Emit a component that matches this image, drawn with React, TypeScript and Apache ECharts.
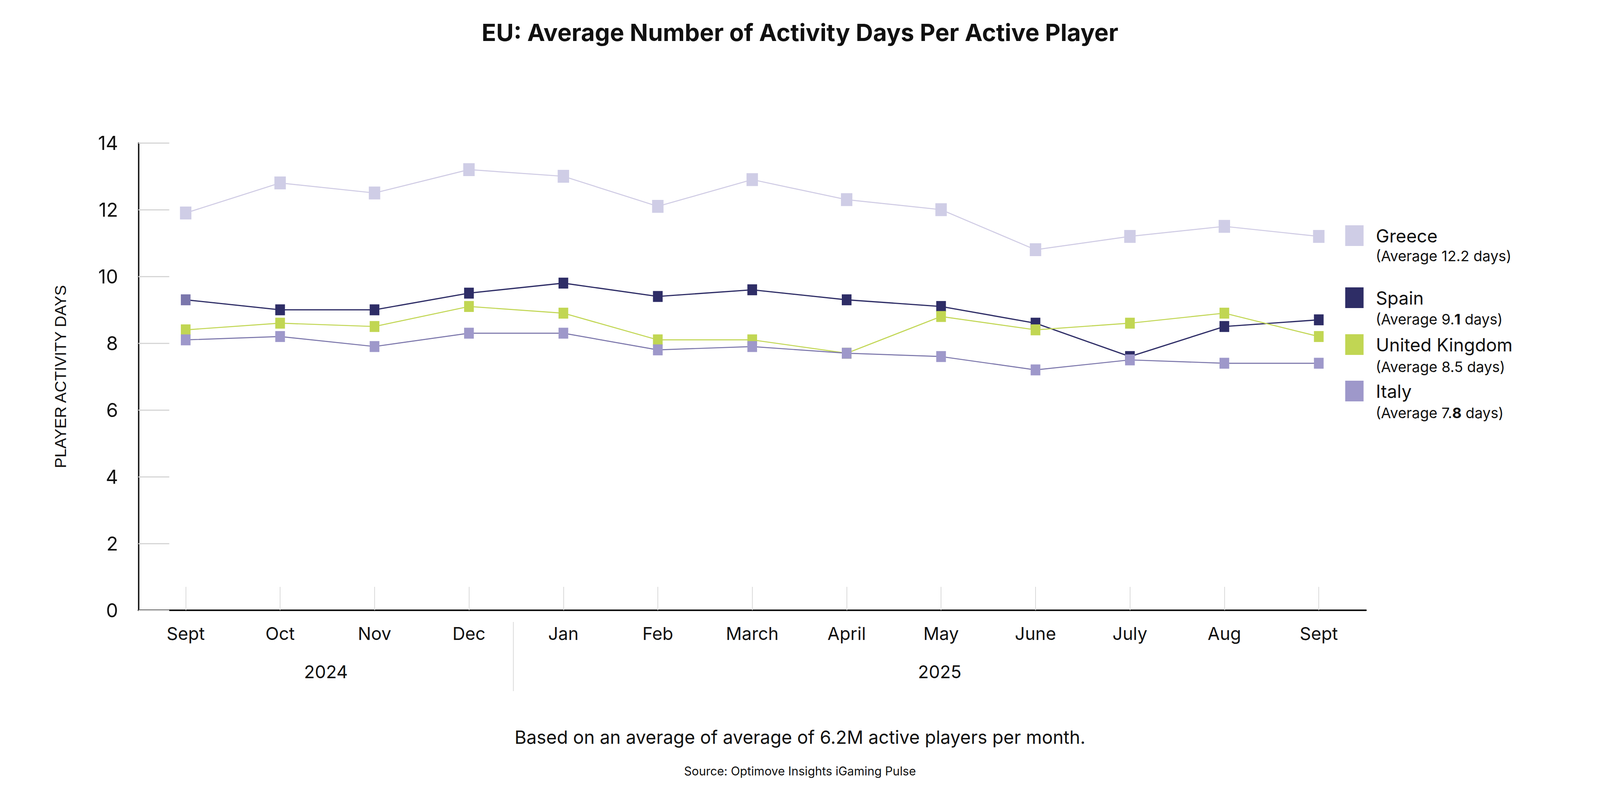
import React, { useEffect, useRef } from 'react';
import * as echarts from 'echarts';

const months = ['Sept', 'Oct', 'Nov', 'Dec', 'Jan', 'Feb', 'March', 'April', 'May', 'June', 'July', 'Aug', 'Sept'];
const yearGroups = [
  { label: '2024', from: 0, to: 3 },
  { label: '2025', from: 4, to: 12 },
];
const yTicks = [0, 2, 4, 6, 8, 10, 12, 14];

const greece = [11.9, 12.8, 12.5, 13.2, 13.0, 12.1, 12.9, 12.3, 12.0, 10.8, 11.2, 11.5, 11.2];
const spain = [9.3, 9.0, 9.0, 9.5, 9.8, 9.4, 9.6, 9.3, 9.1, 8.6, 7.6, 8.5, 8.7];
const uk = [8.4, 8.6, 8.5, 9.1, 8.9, 8.1, 8.1, 7.7, 8.8, 8.4, 8.6, 8.9, 8.2];
const italy = [8.1, 8.2, 7.9, 8.3, 8.3, 7.8, 7.9, 7.7, 7.6, 7.2, 7.5, 7.4, 7.4];

const seriesNames = ['Greece', 'Spain', 'United Kingdom', 'Italy'];
const averageWhole = ['12.2', '9.', '8.5', '7.'];
const averageBold = ['', '1', '', '8'];

const TITLE = 'EU: Average Number of Activity Days Per Active Player';
const Y_NAME = 'PLAYER ACTIVITY DAYS';
const NOTE = 'Based on an average of average of 6.2M active players per month.';
const SOURCE = 'Source: Optimove Insights iGaming Pulse';

const FONT = "Inter, 'Open Sans', sans-serif";
const INK = '#111111';

const markerColors = ['#CFCDE6', '#2E2D66', '#C1D653', '#9E98CA'];
const lineColors = ['#CFCBE4', '#2E2D66', '#C1D653', '#7B76AB'];
const markerSizes = [33, 28, 28, 28];
const legendTops = [577, 736, 856, 975];
const subLineY = [655, 817, 939, 1057];

// reference frame of the design
const REF_W = 4622;
const REF_H = 2031;

export default function App() {
  const ref = useRef<HTMLDivElement>(null);

  useEffect(() => {
    if (!ref.current) return;
    const el = ref.current;
    const W = el.clientWidth || REF_W;
    const H = el.clientHeight || REF_H;
    const sx = W / REF_W;
    const sy = H / REF_H;
    const X = (v: number) => v * sx;
    const Y = (v: number) => v * sy;
    const F = (v: number) => v * sx;

    const chart = echarts.init(el, null, { renderer: 'svg' });
    const seriesData = [greece, spain, uk, italy];

    const option: any = {
      animation: false,
      backgroundColor: '#ffffff',
      title: [
        {
          text: TITLE,
          left: 'center',
          top: Y(85.5) - F(37.5),
          padding: 0,
          textStyle: { fontFamily: FONT, fontSize: F(69), fontWeight: 'bold', color: INK },
        },
        {
          text: NOTE,
          left: 'center',
          top: Y(1887) - F(25),
          padding: 0,
          textStyle: { fontFamily: FONT, fontSize: F(52.5), fontWeight: 'normal', color: INK },
        },
        {
          text: SOURCE,
          left: 'center',
          top: Y(1973) - F(16),
          padding: 0,
          textStyle: { fontFamily: FONT, fontSize: F(34.5), fontWeight: 'normal', color: INK },
        },
      ],
      legend: seriesNames.map((name, i) => ({
        data: [{ name, icon: 'rect', itemStyle: { color: markerColors[i] } }],
        left: X(3886),
        top: Y(legendTops[i]),
        orient: 'vertical',
        padding: 0,
        itemWidth: X(53),
        itemHeight: Y(53),
        selectedMode: false,
        textStyle: { fontFamily: FONT, fontSize: F(52), color: INK, padding: [0, 0, 0, X(30)] },
      })),
      grid: { left: X(400), width: X(3546), top: Y(366), height: Y(1197) },
      xAxis: {
        type: 'category',
        data: months,
        boundaryGap: true,
        axisLine: { show: true, lineStyle: { color: INK, width: Y(4) } },
        axisTick: {
          show: true,
          inside: true,
          alignWithLabel: true,
          length: Y(60),
          lineStyle: { color: '#D6D6D6', width: X(2) },
        },
        axisLabel: { fontFamily: FONT, fontSize: F(51), color: INK, margin: Y(60) - F(26), interval: 0 },
        splitLine: { show: false },
      },
      yAxis: {
        type: 'value',
        min: yTicks[0],
        max: yTicks[yTicks.length - 1],
        interval: yTicks[1] - yTicks[0],
        name: Y_NAME,
        nameLocation: 'middle',
        nameRotate: 90,
        nameGap: X(202),
        nameTextStyle: { fontFamily: "'Liberation Sans', Arial, sans-serif", fontSize: F(46), color: INK },
        axisLine: { show: true, lineStyle: { color: INK, width: X(4) } },
        axisTick: { show: true, inside: true, length: X(89), lineStyle: { color: '#D6D6D6', width: Y(3) } },
        axisLabel: { fontFamily: FONT, fontSize: F(55), color: INK, margin: X(59) },
        splitLine: { show: false },
      },
      series: seriesNames.map((name, i) => ({
        name,
        type: 'line',
        data:
          i === 1
            ? seriesData[i].map((v, j) => (j === 0 ? { value: v, itemStyle: { color: '#7B77AC' } } : v))
            : seriesData[i],
        symbol: 'rect',
        symbolSize: [X(markerSizes[i]), Y(markerSizes[i])],
        showSymbol: true,
        itemStyle: { color: markerColors[i], borderWidth: 0 },
        lineStyle: { color: lineColors[i], width: X(i === 1 ? 3.5 : 3) },
        z: 2 + i,
      })),
    };

    chart.setOption(option);

    const px = (i: number) => chart.convertToPixel({ xAxisIndex: 0 }, i) as number;
    const graphics: any[] = [];
    yearGroups.forEach((g) => {
      graphics.push({
        type: 'text',
        x: (px(g.from) + px(g.to)) / 2 - X(4),
        y: Y(1720),
        style: {
          text: g.label,
          fill: INK,
          font: `${F(51)}px ${FONT}`,
          align: 'center',
          verticalAlign: 'middle',
        },
      });
    });
    for (let k = 0; k < yearGroups.length - 1; k++) {
      const sxl = (px(yearGroups[k].to) + px(yearGroups[k + 1].from)) / 2 - X(8);
      graphics.push({
        type: 'line',
        shape: { x1: sxl, y1: Y(1593), x2: sxl, y2: Y(1770) },
        style: { stroke: '#D6D6D6', lineWidth: X(2) },
      });
    }
    seriesNames.forEach((_, i) => {
      const txt = averageBold[i]
        ? `{n|(Average ${averageWhole[i]}}{b|${averageBold[i]}}{n| days)}`
        : `{n|(Average ${averageWhole[i]} days)}`;
      graphics.push({
        type: 'text',
        x: X(3974),
        y: Y(subLineY[i]),
        style: {
          text: txt,
          verticalAlign: 'middle',
          align: 'left',
          rich: {
            n: { fontFamily: FONT, fontSize: F(42), color: INK, fill: INK },
            b: { fontFamily: FONT, fontSize: F(42), fontWeight: 'bold', color: INK, fill: INK },
          },
        },
      });
    });
    chart.setOption({ graphic: graphics });

    const onResize = () => chart.resize();
    window.addEventListener('resize', onResize);
    return () => {
      window.removeEventListener('resize', onResize);
      chart.dispose();
    };
  }, []);

  return (
    <div
      ref={ref}
      style={{
        position: 'absolute',
        left: 0,
        top: 0,
        width: '100vw',
        height: '100vh',
        overflow: 'hidden',
        background: '#fff',
      }}
    />
  );
}
